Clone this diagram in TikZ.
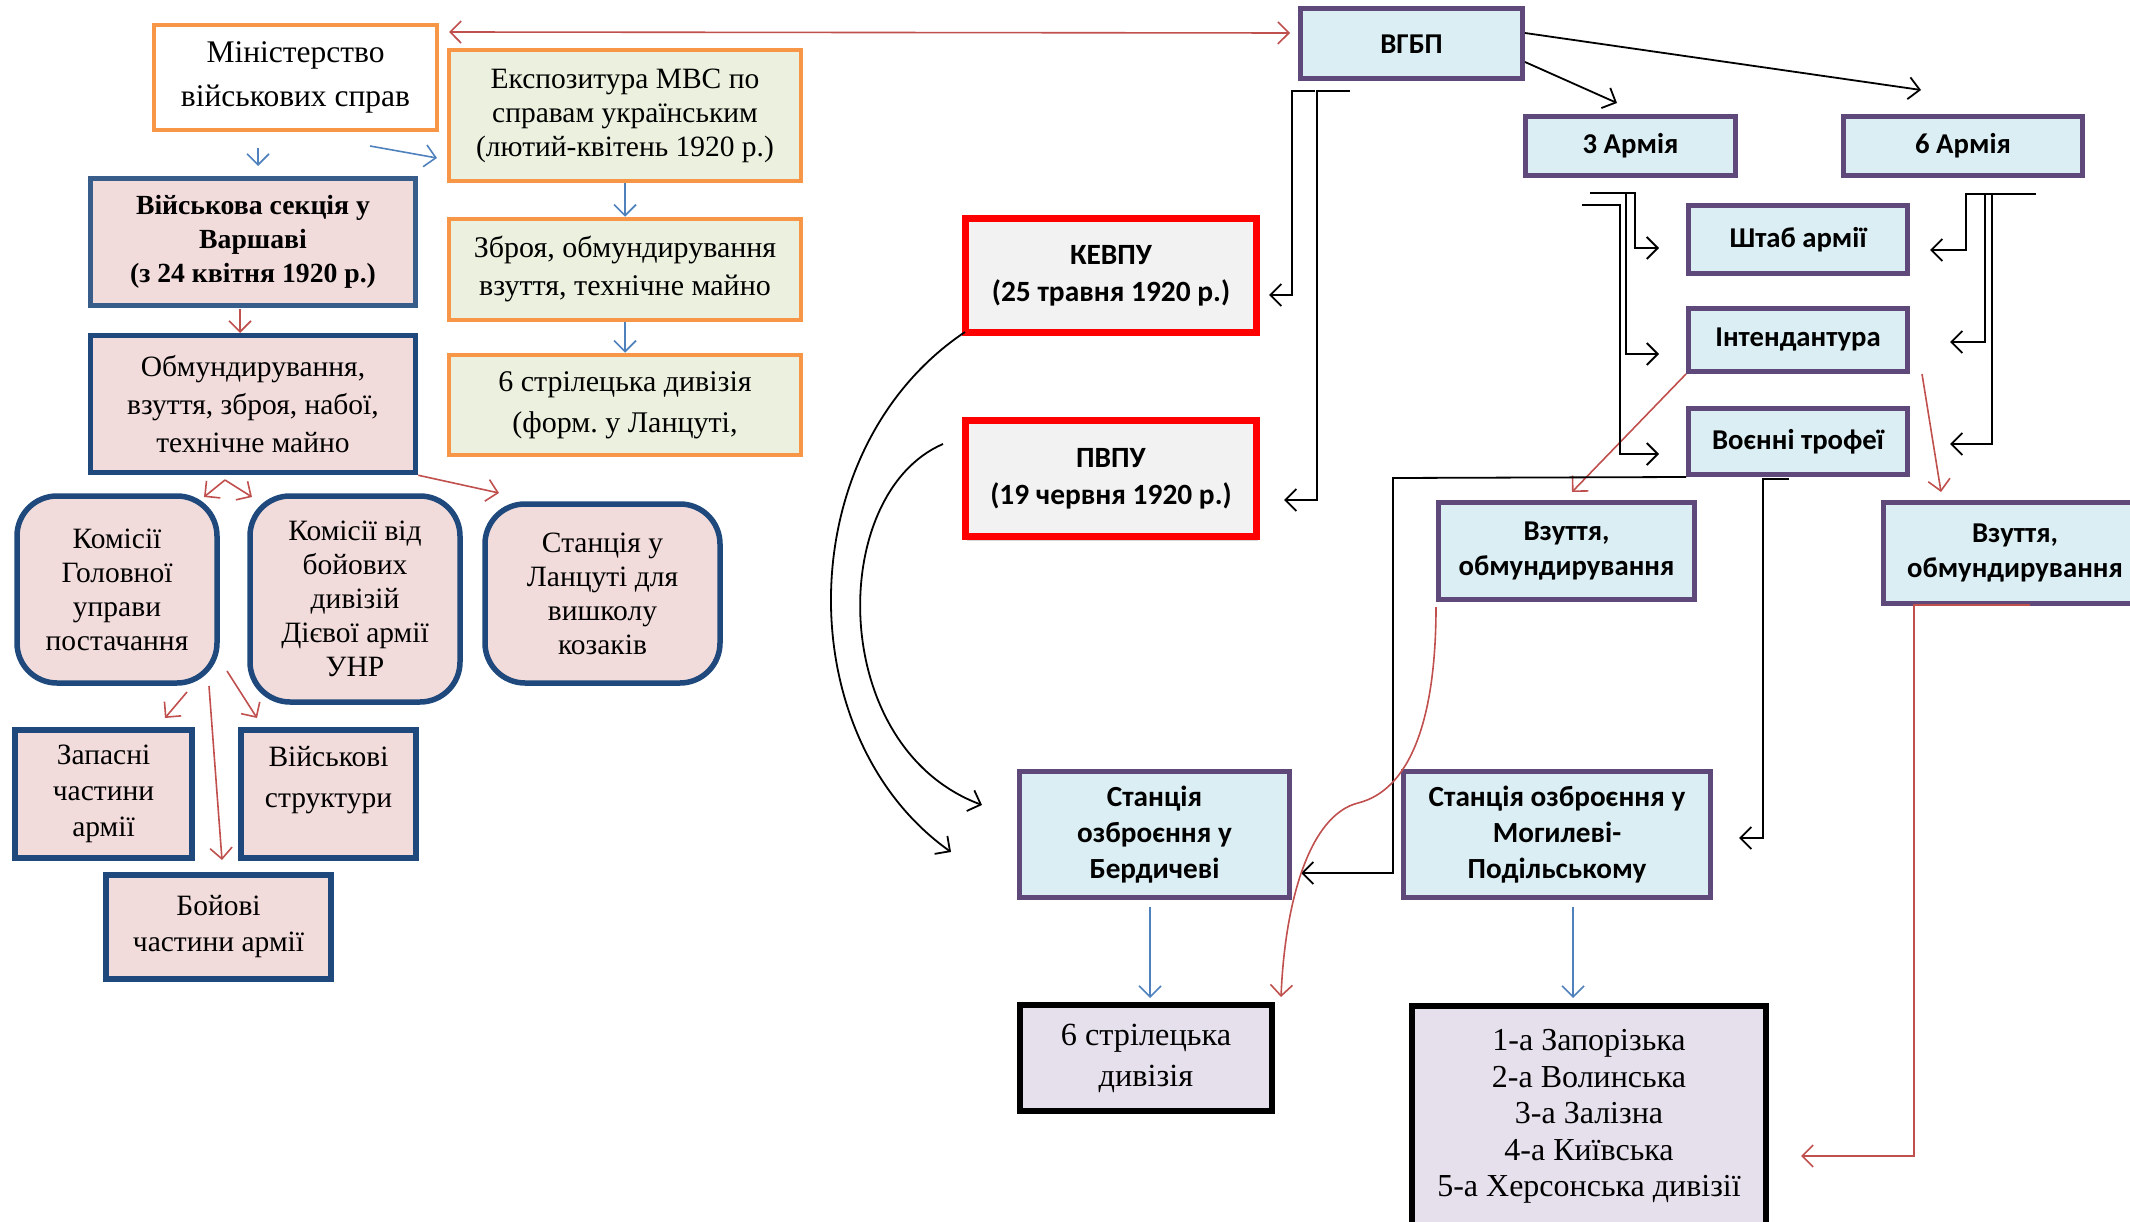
\documentclass[tikz,border=0pt]{standalone}
\usepackage{fontspec}
\setmainfont{Liberation Serif}
\newfontfamily\calfont{Carlito}
\usetikzlibrary{arrows.meta,shadows}
\definecolor{orng}{HTML}{F79646}
\definecolor{grnfill}{HTML}{EBF1DE}
\definecolor{pinkfill}{HTML}{F2DCDB}
\definecolor{navy}{HTML}{1F497D}
\definecolor{midblue}{HTML}{385D8A}
\definecolor{purp}{HTML}{5F497A}
\definecolor{aqua}{HTML}{DBEEF4}
\definecolor{lav}{HTML}{E6E0EC}
\definecolor{arrblue}{HTML}{4F81BD}
\definecolor{arrred}{HTML}{C0504D}
\definecolor{greyfill}{HTML}{F2F2F2}
\frenchspacing
\begin{document}
\begin{tikzpicture}[x=1pt,y=-1pt,
  box/.style={rectangle, align=center, inner sep=0pt},
  obox/.style={box, draw=orng, line width=4.5pt},
  pbox/.style={box, draw=navy, fill=pinkfill, line width=5.5pt},
  rbox/.style={pbox, rounded corners=40pt},
  ubox/.style={box, draw=purp, fill=aqua, line width=5pt, font=\calfont\bfseries\fontsize{28.7}{35}\selectfont},
  redbox/.style={box, draw=red, fill=greyfill, line width=7.5pt, drop shadow={shadow xshift=1pt, shadow yshift=-4pt, opacity=0.3}, font=\calfont\bfseries\fontsize{29.4}{37}\selectfont},
  kbox/.style={box, draw=black, fill=lav, line width=6pt},
  tip/.style={-{Straight Barb[length=11pt,width=22pt]}},
  barr/.style={tip, draw=arrblue, line width=1.6pt},
  rarr/.style={tip, draw=arrred, line width=1.6pt},
  rarrtwo/.style={{Straight Barb[length=11pt,width=22pt]}-{Straight Barb[length=11pt,width=22pt]}, draw=arrred, line width=1.6pt},
  karr/.style={tip, draw=black, line width=1.8pt},
]
\useasboundingbox (0,0) rectangle (2130,1222);

% ---------- left part ----------
\node[obox, fill=white, minimum width=283pt, minimum height=105pt, font=\fontsize{31.5}{44}\selectfont] (min) at (295.5,77.5) {Міністерство\\військових справ};
\node[obox, fill=grnfill, minimum width=352pt, minimum height=131pt, font=\fontsize{29.5}{34}\selectfont] (exp) at (625,115.5) {Експозитура МВС по\\справам українським\\(лютий-квітень 1920 р.)};
\node[obox, fill=grnfill, minimum width=352pt, minimum height=101pt, font=\fontsize{30}{38}\selectfont] (zbr) at (625,269.5) {Зброя, обмундирування\\взуття, технічне майно};
\node[obox, fill=grnfill, minimum width=352pt, minimum height=100pt, font=\fontsize{30}{41}\selectfont] (dsf) at (625,405) {6 стрілецька дивізія\\(форм. у Ланцуті,};
\node[pbox, draw=midblue, minimum width=325pt, minimum height=127pt, font=\bfseries\fontsize{27.7}{34}\selectfont] (vs) at (253,242) {Військова секція у\\Варшаві\\(з 24 квітня 1920 р.)};
\node[pbox, minimum width=325pt, minimum height=137pt, font=\fontsize{29.5}{38}\selectfont] (obm) at (253,404) {Обмундирування,\\взуття, зброя, набої,\\технічне майно};
\node[rbox, minimum width=200pt, minimum height=187pt, font=\fontsize{29.5}{34}\selectfont] (kgu) at (117,589.5) {Комісії\\Головної\\управи\\постачання};
\node[rbox, minimum width=210pt, minimum height=206pt, font=\fontsize{29.5}{34}\selectfont] (kbd) at (355,599) {Комісії від\\бойових\\дивізій\\Дієвої армії\\УНР};
\node[rbox, minimum width=235pt, minimum height=179pt, font=\fontsize{29.5}{34}\selectfont] (stl) at (602.5,593.5) {Станція у\\Ланцуті для\\вишколу\\козаків};
\node[pbox, minimum width=177pt, minimum height=128pt, font=\fontsize{29.5}{36}\selectfont] (zap) at (103.5,794) {Запасні\\частини\\армії};
\node[pbox, minimum width=175pt, minimum height=128pt] (vstr) at (328.5,794) {};
\node[align=center, font=\fontsize{29.5}{41}\selectfont] (vstrt) at (328.5,780) {Військові\\структури};
\node[pbox, minimum width=225pt, minimum height=104pt, font=\fontsize{29.5}{36}\selectfont] (boy) at (218.5,927) {Бойові\\частини армії};

% ---------- right part ----------
\node[ubox, minimum width=222pt, minimum height=70pt] (vgbp) at (1411.5,44) {ВГБП};
\node[ubox, minimum width=210pt, minimum height=59pt] (athree) at (1630.5,146) {3 Армія};
\node[ubox, minimum width=239pt, minimum height=59pt] (asix) at (1963,146) {6 Армія};
\node[ubox, minimum width=219pt, minimum height=68pt] (shtab) at (1798,239.5) {Штаб армії};
\node[ubox, minimum width=219pt, minimum height=63pt] (int) at (1798,340) {Інтендантура};
\node[ubox, minimum width=219pt, minimum height=66pt] (voen) at (1798,441.5) {Воєнні трофеї};
\node[ubox, minimum width=256pt, minimum height=97pt] (vzone) at (1566.5,551) {Взуття,\\обмундирування};
\node[ubox, minimum width=263pt, minimum height=101pt] (vztwo) at (2015,553) {Взуття,\\обмундирування};
\node[redbox, minimum width=291pt, minimum height=114pt] (kevpu) at (1111,275.5) {КЕВПУ\\(25 травня 1920 р.)};
\node[redbox, minimum width=291pt, minimum height=116pt] (pvpu) at (1111,478.5) {ПВПУ\\(19 червня 1920 р.)};
\node[ubox, minimum width=270pt, minimum height=126pt, font=\calfont\bfseries\fontsize{29.2}{36}\selectfont] (berd) at (1154.5,834.5) {Станція\\озброєння у\\Бердичеві};
\node[ubox, minimum width=307pt, minimum height=126pt, font=\calfont\bfseries\fontsize{29.2}{36}\selectfont] (mog) at (1557,834.5) {Станція озброєння у\\Могилеві-\\Подільському};
\node[kbox, minimum width=252pt, minimum height=106pt, font=\fontsize{32.3}{41}\selectfont] (div) at (1146,1058) {6 стрілецька\\дивізія};
\node[kbox, minimum width=354pt, minimum height=221pt, font=\fontsize{32}{36.5}\selectfont] (divs) at (1589,1116.5) {1-а Запорізька\\2-а Волинська\\3-а Залізна\\4-а Київська\\5-а Херсонська дивізії};

% ---------- coordinates ----------
\coordinate (bas) at (258,148); \coordinate (bae) at (258,166);
\coordinate (bbs) at (370,146); \coordinate (bbe) at (437,158);
\coordinate (bcs) at (1150,907); \coordinate (bce) at (1150,998);
\coordinate (bds) at (1573,907); \coordinate (bde) at (1573,998);
\coordinate (roa) at (449,32); \coordinate (rob) at (1290,33);
\coordinate (rvs) at (240,309); \coordinate (rve) at (240,333);
\coordinate (rto) at (225,480); \coordinate (rta) at (204,497); \coordinate (rtb) at (252,497);
\coordinate (rse) at (499,493);
\coordinate (rfs) at (187,692); \coordinate (rfe) at (165,718);
\coordinate (rgs) at (209,686); \coordinate (rge) at (222,860);
\coordinate (rhs) at (227,671); \coordinate (rhe) at (257,718);
\coordinate (rie) at (1572,492);
\coordinate (rjs) at (1922,374); \coordinate (rje) at (1941,492);
\coordinate (rks) at (2030,605); \coordinate (rke) at (1801,1156);
\coordinate (rls) at (1436,607); \coordinate (rlm) at (1358,803); \coordinate (rle) at (1281,997);
\coordinate (kas) at (1525,62); \coordinate (kae) at (1617,103);
\coordinate (kbs) at (1525,33); \coordinate (kbe) at (1921,90);
\coordinate (kcs) at (1315,91); \coordinate (kce) at (1269,295);
\coordinate (kds) at (1350,91); \coordinate (kde) at (1284,500);
\coordinate (kes) at (1590,193); \coordinate (kee) at (1659,248);
\coordinate (kfs) at (1610,193); \coordinate (kfe) at (1659,354);
\coordinate (kgs) at (1582,205); \coordinate (kge) at (1659,454);
\coordinate (khs) at (2036,194); \coordinate (khe) at (1930,250);
\coordinate (kis) at (2022,194); \coordinate (kie) at (1950,342);
\coordinate (kjs) at (2022,194); \coordinate (kje) at (1950,444);
\coordinate (kke) at (1301,873);
\coordinate (kls) at (1789,479); \coordinate (kle) at (1739,838);
\coordinate (kms) at (965,332); \coordinate (kme) at (951,852);
\coordinate (kns) at (943,444); \coordinate (kne) at (982,805);

% ---------- blue arrows ----------
\draw[barr] (bas) -- (bae);
\draw[barr] (bbs) -- (bbe);
\draw[barr] (exp.south) -- (zbr.north);
\draw[barr] (zbr.south) -- (dsf.north);
\draw[barr] (bcs) -- (bce);
\draw[barr] (bds) -- (bde);

% ---------- red arrows ----------
\draw[rarrtwo] (roa) -- (rob);
\draw[rarr] (rvs) -- (rve);
\draw[rarr] (rto) -- (rta);
\draw[rarr] (rto) -- (rtb);
\draw[rarr] (obm.south east) -- (rse);
\draw[rarr] (rfs) -- (rfe);
\draw[rarr] (rgs) -- (rge);
\draw[rarr] (rhs) -- (rhe);
\draw[rarr] (int.south west) -- (rie);
\draw[rarr] (rjs) -- (rje);
\draw[rarr] (rks) -- (1914,605) -- (1914,1156) -- (rke);

% ---------- black connectors ----------
\draw[karr] (kas) -- (kae);
\draw[karr] (kbs) -- (kbe);
\draw[karr] (kcs) -- (1292,91) -- (1292,295) -- (kce);
\draw[karr] (kds) -- (1317,91) -- (1317,500) -- (kde);
\draw[karr] (kes) -- (1635,193) -- (1635,248) -- (kee);
\draw[karr] (kfs) -- (1626,193) -- (1626,354) -- (kfe);
\draw[karr] (kgs) -- (1620,205) -- (1620,454) -- (kge);
\draw[karr] (khs) -- (1966,194) -- (1966,250) -- (khe);
\draw[karr] (kis) -- (1985,194) -- (1985,342) -- (kie);
\draw[karr] (kjs) -- (1992,194) -- (1992,444) -- (kje);
\draw[karr] (voen.south west) -- (1393,478) -- (1393,873) -- (kke);
\draw[karr] (kls) -- (1763,479) -- (1763,838) -- (kle);
\draw[karr] (kms) .. controls (789,450) and (789,737) .. (kme);
\draw[karr] (kns) .. controls (827,494) and (827,747) .. (kne);

\draw[rarr] (rls) .. controls (1436,720) and (1410,790) .. (rlm) .. controls (1310,815) and (1285,900) .. (rle);
\end{tikzpicture}
\end{document}
